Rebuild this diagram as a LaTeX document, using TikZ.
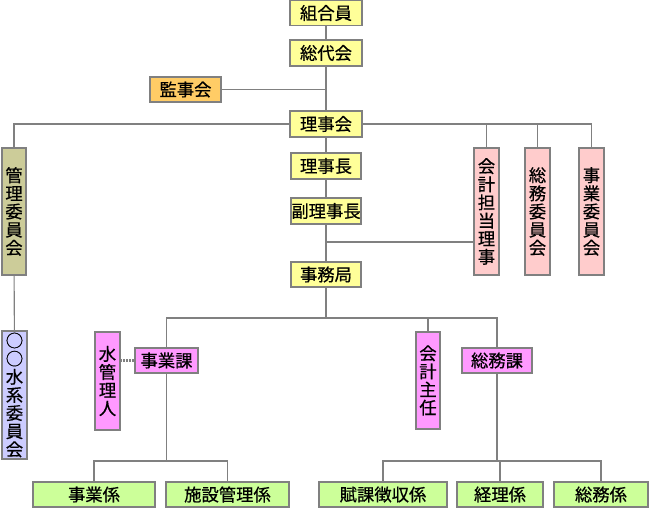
\documentclass[tikz,border=0pt]{standalone}
\usepackage{fontspec}
\newfontfamily\cjk[FakeBold=0.6]{Noto Sans CJK JP}
\definecolor{lc}{HTML}{808080}
\definecolor{cyel}{HTML}{FFFF99}
\definecolor{cora}{HTML}{FFCC66}
\definecolor{cpink}{HTML}{FFCCCC}
\definecolor{coli}{HTML}{CCCC99}
\definecolor{clav}{HTML}{CCCCFF}
\definecolor{cmag}{HTML}{FF99FF}
\definecolor{cgrn}{HTML}{CCFF99}
\tikzset{
  bx/.style={draw=lc, line width=1.1pt, inner sep=0pt, align=center,
    font=\cjk\fontsize{13}{13.6}\selectfont, text=black},
  wd/.style={minimum width=#1*0.75pt},
  ht/.style={minimum height=#1*0.75pt},
  ln/.style={draw=lc, line width=0.8pt},
  dl/.style={draw=lc, line width=1.6pt, dash pattern=on 1.6pt off 0.8pt},
}
\begin{document}
\begin{tikzpicture}[x=0.75pt,y=-0.75pt]
\useasboundingbox (0,0) rectangle (649,508);
% nodes
\node[bx,fill=cyel,wd=72,ht=25] (kumiai) at (326,13) {組合員};
\node[bx,fill=cyel,wd=72,ht=26] (soudai) at (326,53) {総代会};
\node[bx,fill=cora,wd=71,ht=25] (kanji) at (185.5,89.5) {監事会};
\node[bx,fill=cyel,wd=72,ht=26] (rijikai) at (326,124) {理事会};
\node[bx,fill=cyel,wd=70,ht=26] (rijicho) at (326,166) {理事長};
\node[bx,fill=cyel,wd=70,ht=26] (fuku) at (326,211) {副理事長};
\node[bx,fill=cyel,wd=70,ht=25] (jimu) at (326,274.5) {事務局};
\node[bx,fill=cpink,wd=25,ht=127] (kaitan) at (486.5,211.5) {会\\計\\担\\当\\理\\事};
\node[bx,fill=cpink,wd=25,ht=127] (soiin) at (537.5,211.5) {総\\務\\委\\員\\会};
\node[bx,fill=cpink,wd=25,ht=127] (jiiin) at (591.5,211.5) {事\\業\\委\\員\\会};
\node[bx,fill=coli,wd=24,ht=127] (kanriiin) at (14,211.5) {管\\理\\委\\員\\会};
\node[bx,fill=clav,wd=25,ht=128] (suikei) at (14.5,395) {○\\○\\水\\系\\委\\員\\会};
\node[bx,fill=cmag,wd=25,ht=98] (mizu) at (107.5,381) {水\\管\\理\\人};
\node[bx,fill=cmag,wd=63,ht=25] (jigyoka) at (166.5,360.5) {事業課};
\node[bx,fill=cmag,wd=24,ht=97] (kaishu) at (428,380.5) {会\\計\\主\\任};
\node[bx,fill=cmag,wd=70,ht=25] (soumuka) at (497,360.5) {総務課};
\node[bx,fill=cgrn,wd=122,ht=25] (jigakari) at (94,494.5) {事業係};
\node[bx,fill=cgrn,wd=123,ht=25] (shisetsu) at (227.5,494.5) {施設管理係};
\node[bx,fill=cgrn,wd=128,ht=25] (fuka) at (383,494.5) {賦課徴収係};
\node[bx,fill=cgrn,wd=86,ht=25] (keiri) at (500,494.5) {経理係};
\node[bx,fill=cgrn,wd=94,ht=25] (sogakari) at (601,494.5) {総務係};
% junctions
\coordinate (jb) at (326,242);
\coordinate (j2) at (326,318);
\coordinate (c1) at (166.5,461);
\coordinate (c2) at (497,461);
% connectors
\draw[ln] (kumiai) -- (soudai);
\draw[ln] (soudai) -- (rijikai);
\draw[ln] (kanji.east) -- (kanji.east -| soudai.south);
\draw[ln] (rijikai.west) -| (kanriiin.north);
\draw[ln] (rijikai.east) -| (jiiin.north);
\draw[ln] (kaitan.north) -- (kaitan.north |- rijikai.east);
\draw[ln] (soiin.north) -- (soiin.north |- rijikai.east);
\draw[ln] (rijikai) -- (rijicho);
\draw[ln] (rijicho) -- (fuku);
\draw[ln] (fuku) -- (jimu);
\draw[ln] (jb) -- (jb -| kaitan.west);
\draw[ln] (kanriiin) -- (suikei);
\draw[ln] (jimu.south) -- (j2);
\draw[ln] (jigyoka.north) |- (j2) -| (soumuka.north);
\draw[ln] (kaishu.north) -- (kaishu.north |- j2);
\draw[dl] (jigyoka.west) -- (jigyoka.west -| mizu.east);
\draw[ln] (jigyoka.south) -- (c1);
\draw[ln] (jigakari.north) |- (c1) -| (shisetsu.north);
\draw[ln] (soumuka.south) -- (c2);
\draw[ln] (fuka.north) |- (c2) -| (sogakari.north);
\draw[ln] (keiri.north) -- (keiri.north |- c2);
\end{tikzpicture}
\end{document}
